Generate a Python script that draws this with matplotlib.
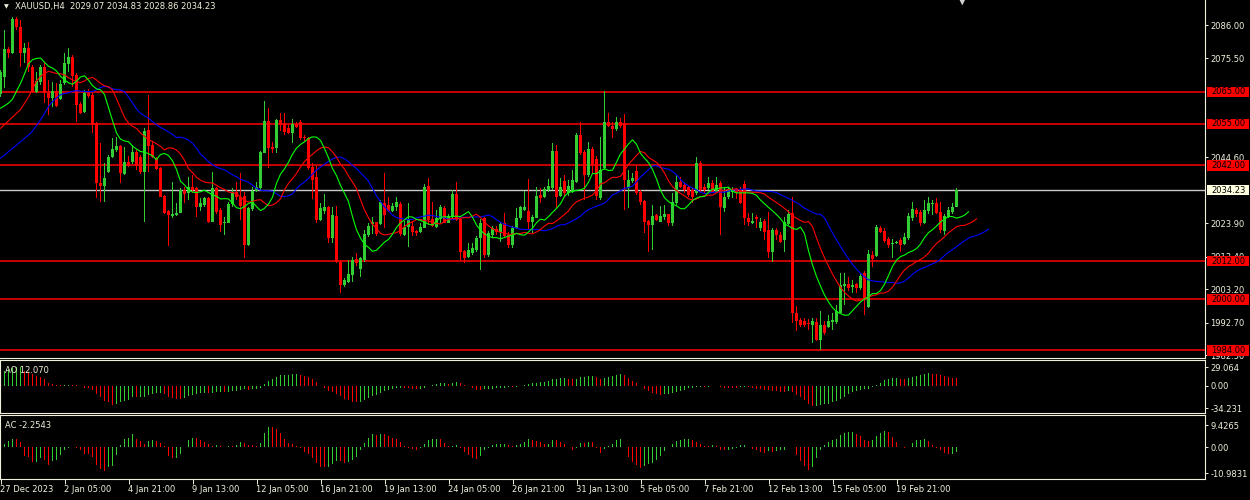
import numpy as np
import pandas as pd
import matplotlib
matplotlib.use('Agg')
import matplotlib.pyplot as plt
from matplotlib.patches import Rectangle

symbol = 'XAUUSD,H4'

# H4 candles (bar 0 = left edge)
opens = [2064.5, 2069.8, 2078.5, 2077.3, 2087.9, 2085.5, 2077.1, 2078.9, 2072.9, 2065.1,
         2068.2, 2072.9, 2064.6, 2063.0, 2065.3, 2062.7, 2067.7, 2073.7, 2076.1, 2070.3,
         2061.2, 2058.8, 2064.8, 2064.0, 2055.2, 2036.6, 2035.5, 2040.0, 2044.7, 2046.8,
         2048.1, 2039.3, 2042.9, 2043.1, 2046.3, 2044.7, 2040.0, 2053.1, 2048.4, 2044.2,
         2041.3, 2032.5, 2027.8, 2026.1, 2026.5, 2027.2, 2034.3, 2033.2, 2035.3, 2034.8,
         2029.0, 2029.6, 2031.9, 2024.3, 2034.8, 2028.0, 2023.8, 2024.0, 2029.9, 2033.7,
         2032.2, 2032.5, 2017.0, 2028.2, 2034.0, 2034.8, 2046.0, 2055.9, 2047.8, 2047.3,
         2056.2, 2055.4, 2053.6, 2052.0, 2054.9, 2055.5, 2051.0, 2050.5, 2041.4, 2038.4,
         2024.9, 2027.8, 2029.0, 2019.1, 2026.1, 2011.8, 2004.5, 2005.5, 2007.6, 2012.5,
         2009.5, 2012.3, 2020.2, 2023.6, 2024.1, 2023.6, 2030.3, 2029.6, 2027.8, 2028.8,
         2029.9, 2020.2, 2022.8, 2023.0, 2021.5, 2021.2, 2022.5, 2035.5, 2025.1, 2022.8,
         2025.1, 2028.7, 2024.0, 2025.9, 2033.0, 2025.1, 2015.2, 2013.3, 2014.4, 2015.5,
         2019.1, 2025.4, 2013.9, 2020.2, 2022.1, 2021.2, 2023.8, 2020.2, 2017.0, 2022.3,
         2025.4, 2028.0, 2027.7, 2024.3, 2025.6, 2032.7, 2032.2, 2034.3, 2034.8, 2046.5,
         2032.4, 2037.1, 2033.2, 2033.7, 2036.9, 2051.5, 2046.3, 2039.0, 2047.0, 2043.9,
         2031.7, 2041.1, 2055.5, 2054.3, 2053.3, 2055.7, 2055.2, 2034.8, 2037.2, 2040.3,
         2033.7, 2030.9, 2024.6, 2023.3, 2026.4, 2024.3, 2025.7, 2026.6, 2023.8, 2030.1,
         2036.9, 2035.8, 2035.3, 2034.3, 2033.2, 2042.8, 2035.3, 2034.8, 2036.4, 2033.7,
         2036.4, 2028.5, 2032.2, 2033.7, 2034.5, 2034.3, 2036.0, 2025.4, 2023.8, 2025.9,
         2022.3, 2024.6, 2021.7, 2014.9, 2021.7, 2020.2, 2018.6, 2023.6, 2027.0, 1995.8,
         1993.5, 1993.3, 1992.7, 1992.0, 1993.0, 1987.2, 1991.9, 1991.4, 1993.0, 1993.0,
         1995.8, 2004.2, 2004.7, 2004.0, 2004.7, 2003.5, 2008.1, 1997.7, 2013.9, 2013.6,
         2022.5, 2021.5, 2018.8, 2017.3, 2017.6, 2018.6, 2017.3, 2019.1, 2025.4, 2028.0,
         2027.5, 2023.8, 2027.7, 2029.9, 2030.3, 2027.5, 2021.5, 2025.7, 2027.5, 2029.07]
highs = [2072.0, 2084.4, 2079.0, 2088.6, 2088.6, 2087.6, 2080.3, 2080.8, 2073.5, 2071.4,
         2073.5, 2074.5, 2068.8, 2068.2, 2067.9, 2068.8, 2077.1, 2078.7, 2076.6, 2070.8,
         2061.9, 2065.6, 2065.8, 2064.6, 2055.7, 2048.9, 2042.6, 2045.3, 2050.5, 2051.0,
         2048.4, 2047.8, 2044.9, 2048.4, 2046.8, 2045.3, 2053.6, 2064.0, 2049.5, 2044.7,
         2041.6, 2032.8, 2028.0, 2036.9, 2030.2, 2034.8, 2035.3, 2038.4, 2039.0, 2035.3,
         2031.8, 2032.2, 2032.2, 2040.0, 2035.3, 2028.5, 2025.9, 2030.4, 2034.8, 2036.9,
         2039.5, 2033.7, 2029.0, 2035.2, 2036.9, 2046.5, 2062.2, 2059.9, 2049.4, 2056.5,
         2058.3, 2058.5, 2054.6, 2056.4, 2055.5, 2056.1, 2051.6, 2051.0, 2042.6, 2041.8,
         2030.3, 2033.0, 2029.2, 2029.0, 2029.2, 2012.3, 2006.6, 2012.3, 2013.4, 2014.6,
         2013.4, 2021.6, 2023.9, 2025.7, 2024.3, 2031.0, 2039.5, 2032.2, 2030.1, 2032.2,
         2030.4, 2024.6, 2030.1, 2024.6, 2021.8, 2023.9, 2036.2, 2037.9, 2030.6, 2028.0,
         2029.6, 2029.2, 2026.9, 2034.3, 2036.9, 2025.4, 2015.4, 2017.6, 2017.6, 2019.9,
         2025.1, 2025.9, 2021.4, 2023.0, 2023.0, 2024.1, 2027.0, 2021.0, 2023.0, 2028.5,
         2029.2, 2034.0, 2037.6, 2026.4, 2035.1, 2035.0, 2035.2, 2037.6, 2048.9, 2048.4,
         2037.9, 2038.9, 2037.4, 2040.5, 2052.0, 2055.7, 2046.8, 2049.4, 2047.8, 2044.9,
         2051.0, 2065.3, 2058.3, 2055.7, 2057.2, 2056.9, 2058.0, 2040.5, 2039.7, 2042.1,
         2034.3, 2031.2, 2024.9, 2029.6, 2026.9, 2029.3, 2029.6, 2026.9, 2033.2, 2039.0,
         2038.4, 2036.6, 2035.5, 2035.0, 2044.7, 2043.3, 2036.1, 2038.4, 2037.3, 2038.4,
         2037.0, 2035.3, 2035.3, 2035.1, 2035.0, 2035.1, 2037.1, 2027.2, 2027.0, 2026.4,
         2025.5, 2025.1, 2027.5, 2022.3, 2022.3, 2021.0, 2025.9, 2028.0, 2032.2, 1997.9,
         1994.1, 1994.1, 1993.9, 1994.1, 1994.0, 1996.4, 1993.2, 1995.0, 1995.6, 1998.2,
         2008.1, 2008.1, 2006.9, 2006.0, 2005.2, 2008.4, 2009.0, 2015.4, 2015.1, 2023.4,
         2023.0, 2022.5, 2019.6, 2018.8, 2018.4, 2019.3, 2020.7, 2027.0, 2030.6, 2028.5,
         2028.0, 2031.1, 2032.2, 2031.0, 2031.7, 2030.6, 2026.9, 2029.0, 2030.3, 2034.83]
lows = [2063.5, 2066.2, 2075.6, 2076.8, 2084.4, 2072.9, 2074.0, 2071.4, 2064.6, 2064.6,
        2067.1, 2061.4, 2057.8, 2060.4, 2060.4, 2062.4, 2067.2, 2071.4, 2066.6, 2055.7,
        2058.2, 2058.3, 2063.2, 2052.0, 2031.7, 2030.6, 2030.6, 2039.6, 2044.2, 2046.3,
        2036.4, 2039.0, 2041.5, 2042.4, 2040.5, 2039.4, 2024.3, 2040.0, 2044.2, 2040.5,
        2032.0, 2026.8, 2016.7, 2025.4, 2026.1, 2027.0, 2030.3, 2031.1, 2033.4, 2025.9,
        2027.6, 2029.0, 2023.8, 2024.1, 2026.9, 2021.2, 2020.2, 2023.8, 2029.0, 2031.1,
        2024.9, 2012.8, 2016.7, 2027.6, 2033.7, 2034.3, 2045.8, 2041.3, 2046.0, 2045.8,
        2052.9, 2051.5, 2051.8, 2048.9, 2053.6, 2049.9, 2049.4, 2040.5, 2031.3, 2024.0,
        2024.6, 2026.8, 2017.6, 2017.6, 2011.3, 2001.9, 2004.0, 2005.2, 2005.5, 2010.3,
        2006.9, 2011.7, 2019.6, 2020.5, 2019.9, 2023.2, 2022.3, 2027.3, 2027.3, 2027.8,
        2019.9, 2019.9, 2016.5, 2019.9, 2019.9, 2020.7, 2022.3, 2023.3, 2022.8, 2022.5,
        2023.9, 2023.8, 2023.8, 2025.4, 2024.4, 2012.3, 2011.3, 2012.8, 2013.8, 2014.9,
        2009.2, 2013.1, 2013.3, 2019.1, 2020.2, 2018.1, 2019.4, 2016.0, 2016.0, 2022.0,
        2024.9, 2027.6, 2021.7, 2020.7, 2025.4, 2030.3, 2031.8, 2033.7, 2034.3, 2028.5,
        2032.2, 2032.4, 2032.4, 2033.2, 2036.4, 2045.3, 2031.1, 2038.5, 2039.6, 2031.1,
        2031.1, 2040.5, 2053.9, 2050.7, 2052.8, 2053.6, 2028.0, 2028.5, 2036.6, 2032.6,
        2029.6, 2020.7, 2014.9, 2015.5, 2024.6, 2024.1, 2024.9, 2023.0, 2023.0, 2029.6,
        2034.8, 2033.2, 2032.2, 2030.3, 2032.6, 2033.7, 2033.2, 2034.3, 2033.2, 2033.3,
        2020.2, 2027.5, 2031.6, 2031.8, 2031.6, 2029.9, 2023.3, 2023.0, 2023.6, 2022.3,
        2021.5, 2018.6, 2012.8, 2011.8, 2018.6, 2017.6, 2014.9, 2023.3, 1992.5, 1990.2,
        1991.4, 1991.4, 1990.4, 1986.2, 1986.9, 1984.1, 1988.9, 1991.1, 1990.4, 1992.4,
        1995.6, 1998.2, 2002.5, 2002.0, 2002.1, 2002.8, 1995.1, 1997.4, 2010.2, 2013.3,
        2020.7, 2017.7, 2016.1, 2012.8, 2017.3, 2014.9, 2017.0, 2018.6, 2024.6, 2025.9,
        2023.0, 2023.6, 2026.9, 2026.3, 2026.9, 2020.9, 2020.2, 2025.4, 2026.9, 2028.86]
closes = [2071.4, 2078.5, 2077.3, 2087.9, 2085.5, 2077.1, 2078.9, 2072.9, 2065.1, 2068.4,
          2072.9, 2064.6, 2063.0, 2065.3, 2060.6, 2067.5, 2074.0, 2076.1, 2070.0, 2060.9,
          2058.3, 2064.8, 2063.7, 2054.6, 2036.4, 2035.5, 2037.9, 2044.7, 2047.0, 2048.1,
          2039.5, 2042.9, 2041.8, 2046.1, 2041.9, 2040.0, 2052.9, 2048.1, 2044.7, 2040.9,
          2032.2, 2027.2, 2026.5, 2026.7, 2027.2, 2034.3, 2033.0, 2035.3, 2034.3, 2029.0,
          2030.1, 2031.7, 2024.3, 2034.8, 2027.5, 2023.3, 2024.3, 2029.9, 2033.7, 2032.0,
          2029.3, 2017.0, 2028.7, 2034.0, 2035.3, 2046.3, 2055.9, 2047.3, 2047.2, 2056.2,
          2054.7, 2052.6, 2052.2, 2054.9, 2053.9, 2050.5, 2050.5, 2041.1, 2037.4, 2024.9,
          2028.5, 2029.0, 2019.1, 2026.4, 2011.8, 2004.5, 2006.1, 2007.9, 2012.3, 2011.3,
          2012.8, 2020.5, 2023.1, 2024.3, 2020.5, 2030.6, 2026.4, 2027.8, 2029.3, 2030.6,
          2020.5, 2022.8, 2025.1, 2021.2, 2020.7, 2022.8, 2035.1, 2024.9, 2023.0, 2025.4,
          2029.0, 2024.0, 2026.1, 2033.0, 2024.9, 2014.9, 2012.8, 2015.5, 2016.0, 2019.1,
          2023.8, 2013.9, 2020.7, 2022.3, 2021.2, 2023.6, 2019.8, 2017.0, 2022.3, 2025.4,
          2029.0, 2029.0, 2024.3, 2025.9, 2032.4, 2031.7, 2034.5, 2035.5, 2046.5, 2032.2,
          2035.1, 2033.2, 2035.5, 2037.4, 2051.5, 2045.8, 2039.0, 2047.0, 2042.1, 2032.4,
          2040.5, 2055.7, 2054.3, 2053.3, 2055.7, 2054.3, 2037.4, 2037.4, 2038.1, 2033.2,
          2030.6, 2024.3, 2023.3, 2026.1, 2024.9, 2026.1, 2026.6, 2023.8, 2030.4, 2036.9,
          2035.3, 2034.3, 2032.7, 2032.2, 2042.8, 2034.3, 2034.3, 2036.4, 2033.7, 2035.8,
          2029.0, 2032.2, 2034.5, 2034.3, 2033.2, 2030.1, 2025.4, 2024.3, 2024.6, 2025.1,
          2024.3, 2021.2, 2014.9, 2021.7, 2020.2, 2018.1, 2024.3, 2026.7, 1995.6, 1993.3,
          1992.0, 1992.0, 1992.3, 1993.3, 1987.2, 1991.9, 1989.3, 1993.3, 1993.5, 1996.3,
          2004.5, 2004.8, 2003.5, 2004.5, 2003.5, 2007.3, 2000.3, 2014.2, 2012.5, 2022.6,
          2021.2, 2018.4, 2017.0, 2017.7, 2018.1, 2017.0, 2019.4, 2026.1, 2028.2, 2026.7,
          2023.8, 2028.0, 2030.1, 2030.3, 2027.2, 2021.7, 2026.1, 2028.0, 2029.0, 2034.23]

# horizontal levels drawn on the chart
levels = [2065.00, 2055.00, 2042.00, 2012.00, 2000.00, 1984.00]
price_ticks = [2086.00, 2075.50, 2044.60, 2023.90, 2013.40, 2003.20, 1992.70, 1982.50]

time_pos = [0, 16, 32, 48, 64, 80, 96, 112, 128, 144, 160, 176, 192, 208, 224]
time_labels = ['27 Dec 2023', '2 Jan 05:00', '4 Jan 21:00', '9 Jan 13:00', '12 Jan 05:00',
               '16 Jan 21:00', '19 Jan 13:00', '24 Jan 05:00', '26 Jan 21:00', '31 Jan 13:00',
               '5 Feb 05:00', '7 Feb 21:00', '12 Feb 13:00', '15 Feb 05:00', '19 Feb 21:00']

# AO values for the first bars (their history is off the left edge)
ao_head = [20.6, 23.2, 25.7, 27.8, 28.5, 29.064, 23.2, 22.1, 18.0, 15.4,
           13.9, 10.3, 5.1, 3.6, 1.5, 1.0, 1.2, 1.5, 1.4, 0.8,
           -0.5, -2.6, -4.1, -6.7, -12.9, -18.0, -23.2, -25.7, -29.9, -28.3,
           -25.7, -23.2, -22.1]
ao_ticks = [29.064, 0.0, -34.231]
ac_ticks = [9.4265, 0.0, -10.9831]
ao_text = 'AO 12.070'
ac_text = 'AC -2.2543'

# alligator lines: period, shift, value at left edge, value at bar shift-1
jaw = (13, 8, 2044.2, 2051.5)
teeth = (8, 5, 2053.6, 2058.3)
lips = (5, 3, 2059.9, 2061.5)

bg = '#000000'
fg = '#f2f0dc'
up = '#32cd32'
dn = '#ff0000'

o = np.array(opens); h = np.array(highs); l = np.array(lows); c = np.array(closes)
n = len(c)
x = np.arange(n)
median = (h + l) / 2

fig = plt.figure(figsize=(12.5, 5), dpi=100, facecolor=bg)
W, H = 1250.0, 500.0
def panel(top, bottom):
    a = fig.add_axes([0, 1 - bottom / H, 1205 / W, (bottom - top) / H], facecolor=bg)
    a.set_xlim(-0.125, 301.125)
    for s in a.spines.values():
        s.set_color(fg)
        s.set_linewidth(0.8)
    a.yaxis.tick_right()
    a.tick_params(axis='y', colors=fg, labelsize=6, length=2.2, width=0.7, pad=1.5, direction='out')
    a.tick_params(axis='x', bottom=False, labelbottom=False)
    return a

ax = panel(0, 358)
ax_ao = panel(360, 413)
ax_ac = panel(415, 479)

# ---- price panel
ax.set_ylim(1981.6, 2093.84)
ax.set_yticks(price_ticks)
ax.set_yticklabels(['%.2f' % v for v in price_ticks])
ax.spines['top'].set_visible(False)
ax.spines['left'].set_visible(False)

for lv in levels:
    ax.axhline(lv, color='#ff0000', lw=1.1, zorder=1)
ax.axhline(c[-1], color='#c8c8c8', lw=1.0, zorder=1)

cols = [up if c[i] >= o[i] else dn for i in range(n)]
ax.bar(x, h - l, bottom=l, width=0.25, color=cols, linewidth=0, zorder=2)
body = np.maximum(np.abs(c - o), 0.3)
ax.bar(x, body, bottom=np.minimum(o, c), width=0.75, color=cols, linewidth=0, zorder=2)

def smma(period, shift, start, seed):
    vals = []
    prev = seed
    for m in median:
        prev = (prev * (period - 1) + m) / period
        vals.append(prev)
    xs = np.r_[0, shift - 1, np.arange(n) + shift]
    return xs, np.r_[start, seed, vals]

for par, col in [(jaw, '#0000ff'), (teeth, '#ff0000'), (lips, '#00ff00')]:
    xs, ys = smma(*par)
    ax.plot(xs, ys, color=col, lw=0.8, zorder=3)

ytr = ax.get_yaxis_transform()
bh = 3.35
for lv in levels:
    ax.add_patch(Rectangle((1207 / 1205, lv - bh / 2), 42 / 1205, bh, transform=ytr,
                           facecolor='#ff0000', edgecolor='none', clip_on=False, zorder=10))
    ax.text(1211 / 1205, lv, '%.2f' % lv, transform=ytr, ha='left', va='center',
            fontsize=6, color='black', clip_on=False, zorder=11)
ax.add_patch(Rectangle((1207 / 1205, c[-1] - bh / 2), 42 / 1205, bh, transform=ytr,
                       facecolor='#ffffe0', edgecolor='none', clip_on=False, zorder=10))
ax.text(1211 / 1205, c[-1], '%.2f' % c[-1], transform=ytr, ha='left', va='center',
        fontsize=6, color='black', clip_on=False, zorder=11)

fig.text(6.5 / W, 1 - 6.5 / H, '\u25bc', ha='center', va='center', fontsize=4.5, color=fg)
fig.text(15 / W, 1 - 7 / H, '%s  %.2f %.2f %.2f %.2f' % (symbol, o[-1], h[-1], l[-1], c[-1]),
         ha='left', va='center', fontsize=6, color=fg)
fig.text(962 / W, 1 - 0.5 / H, '\u25bc', ha='center', va='center', fontsize=8, color='#d0d0d0')

# ---- AO / AC
ao = pd.Series(median).rolling(5).mean() - pd.Series(median).rolling(34).mean()
ao[:len(ao_head)] = ao_head
ao = ao.values
ac = ao - pd.Series(ao).rolling(5, min_periods=1).mean().values

def hist(a, vals, ticks, lim, label, ly):
    colors = [up] + [up if vals[i] > vals[i - 1] else dn for i in range(1, n)]
    a.bar(x, vals, width=0.25, color=colors, linewidth=0)
    a.set_ylim(*lim)
    a.set_yticks(ticks)
    a.set_yticklabels([('%g' % t if t != 0 else '0.00') for t in ticks])
    a.text(5 / 1205, ly, label, transform=a.transAxes, ha='left', va='center', fontsize=6, color=fg)

hist(ax_ao, ao, ao_ticks, (-41.95, 39.9), ao_text, 0.81)
hist(ax_ac, ac, ac_ticks, (-13.53, 13.68), ac_text, 0.83)

ax_ac.tick_params(axis='x', bottom=True, labelbottom=True, colors=fg, labelsize=6,
                  length=3.5, width=0.7, pad=1, direction='out')
ax_ac.set_xticks(time_pos)
ax_ac.set_xticklabels(time_labels, ha='left')

fig.savefig('out.png', dpi=100, facecolor=bg)
